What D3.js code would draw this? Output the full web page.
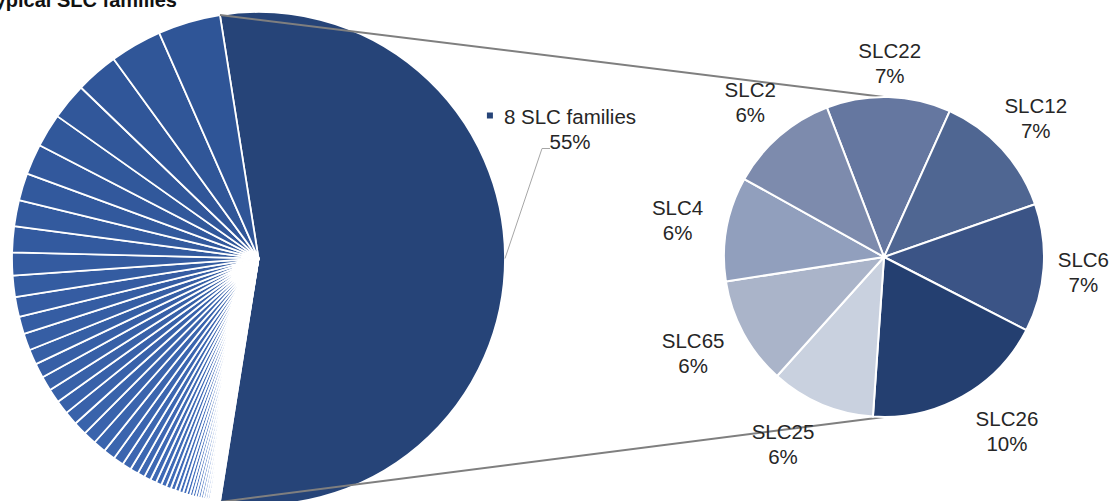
<!DOCTYPE html>
<html>
<head>
<meta charset="utf-8">
<script src="https://cdn.jsdelivr.net/npm/d3@7"></script>
<style>
body{margin:0;background:#fff;}
svg{display:block;font-family:"Liberation Sans",Arial,sans-serif;}
</style>
</head>
<body>
<div id="chart"></div>
<script>
// chart data (% of all families)
var titleText = "Atypical SLC families";
var groupLabel = "8 SLC families";
var slcNames = ["SLC22","SLC12","SLC6","SLC26","SLC25","SLC65","SLC4","SLC2"];
var slcShares = [6.9, 7.1, 7.1, 10.2, 5.8, 6.0, 5.8, 6.1];
// the remaining small families of the first pie, largest first
var otherShares = [4.1, 3.4, 2.8, 2.4, 2.2, 2.0, 1.8, 1.7, 1.7,
    1.5, 1.4, 1.3, 1.15, 1.1, 1.0, 0.95, 0.95, 0.92,
    0.9, 0.9, 0.88, 0.86, 0.84,
    0.78, 0.68, 0.6, 0.54, 0.48, 0.44, 0.4, 0.37, 0.34, 0.32, 0.3, 0.28, 0.26,
    0.24, 0.22, 0.2, 0.19, 0.18, 0.17, 0.16, 0.15, 0.14, 0.13, 0.12, 0.11,
    0.1, 0.09, 0.08, 0.07, 0.06, 0.05];

var slcColors = ["#6577a0","#4f6692","#3b5486","#243f70","#c9d1df","#aab4c9","#919fbd","#7d8bad"];
var groupColor = "#264478";

function DrawPieOfPie(){
    var width = 1111, height = 501;
    var cx = 258.5, cy = 258.5, R = 246.5;
    var cx2 = 884, cy2 = 257, R2 = 160;
    var deg = Math.PI/180;

    function pt(x0, y0, r, a){ return [x0 + r*Math.sin(a), y0 - r*Math.cos(a)]; }

    var svg = d3.select("#chart").append("svg")
        .attr("width", width)
        .attr("height", height);

    var groupTotal = d3.sum(slcShares);
    var bigAngle = groupTotal/100*2*Math.PI;
    var start1 = Math.PI/2 - bigAngle/2;

    // clockwise after the big slice: smallest first, so the largest sit at the top
    var others = otherShares.map(function(v,i){ return {name:"other"+i, value:v, idx:i}; }).reverse();
    var leftData = [{name:groupLabel, value:groupTotal, big:true}].concat(others);

    var pie1 = d3.pie().sort(null).value(function(d){return d.value;})
        .startAngle(start1).endAngle(start1 + 2*Math.PI);
    var arc1 = d3.arc().innerRadius(0).outerRadius(R);

    var shade = d3.scaleLinear().domain([0, otherShares.length-1])
        .range(["#2f5597","#4a79cc"]).interpolate(d3.interpolateRgb);

    var arcs1 = pie1(leftData);

    svg.append("g")
        .attr("transform","translate("+cx+","+cy+")")
        .selectAll("path").data(arcs1).enter().append("path")
        .attr("d", arc1)
        .style("fill", function(d){ return d.data.big ? groupColor : shade(d.data.idx); })
        .style("stroke","#fff")
        .style("stroke-width",1.8)
        .style("stroke-linejoin","round");

    // second pie
    var pie2 = d3.pie().sort(null).value(function(d){return d;})
        .startAngle(-20.9*deg).endAngle(-20.9*deg + 2*Math.PI);
    var arc2 = d3.arc().innerRadius(0).outerRadius(R2);
    var arcs2 = pie2(slcShares);

    // connector lines
    var big = arcs1[0];
    var pTop = pt(cx, cy, R, big.startAngle);
    var pBot = pt(cx, cy, R, big.endAngle);
    svg.append("line")
        .attr("x1",pTop[0]).attr("y1",pTop[1])
        .attr("x2",cx2).attr("y2",cy2-R2)
        .style("stroke","#7f7f7f").style("stroke-width",2);
    svg.append("line")
        .attr("x1",pBot[0]).attr("y1",pBot[1])
        .attr("x2",cx2).attr("y2",cy2+R2)
        .style("stroke","#7f7f7f").style("stroke-width",2);

    svg.append("g")
        .attr("transform","translate("+cx2+","+cy2+")")
        .selectAll("path").data(arcs2).enter().append("path")
        .attr("d", arc2)
        .style("fill", function(d,i){ return slcColors[i]; })
        .style("stroke","#fff")
        .style("stroke-width",2)
        .style("stroke-linejoin","round");

    // labels of second pie (outside end)
    var lab = svg.append("g").style("font-size","20.5px").style("fill","#262626");
    arcs2.forEach(function(d,i){
        var a = (d.startAngle + d.endAngle)/2;
        var down = Math.max(0, -Math.cos(a));
        a = a - 18*deg*Math.sin(a)*Math.pow(down,3);
        var off = R2 + 34 + 16*Math.abs(Math.sin(a)) + 12*Math.max(0, -Math.cos(a));
        var c = pt(cx2, cy2, off, a);
        var t = lab.append("text").attr("text-anchor","middle");
        var s1 = t.append("tspan").attr("x",c[0]).attr("y",c[1]-5).text(slcNames[i]);
        t.append("tspan").attr("x",c[0]).attr("y",c[1]+20).text(Math.round(slcShares[i])+"%");
        var w = s1.node().getComputedTextLength();
        var x = Math.min(c[0], width - w/2 - 2);
        t.selectAll("tspan").attr("x", x);
    });

    // label of the big slice with leader
    var mid = (big.startAngle + big.endAngle)/2;
    var pm = pt(cx, cy, R, mid);
    var lx = pm[0] + 65, b1 = pm[1] - 135, b2 = b1 + 25;
    svg.append("polyline")
        .attr("points", [pm, [pm[0]+37, b2], [pm[0]+45, b2]].map(function(p){return p.join(",");}).join(" "))
        .style("fill","none").style("stroke","#a6a6a6").style("stroke-width",1);
    var t1 = lab.append("text").attr("text-anchor","middle").attr("x",lx).attr("y",b1).text(groupLabel);
    var w1 = t1.node().getComputedTextLength();
    lab.append("rect")
        .attr("x", lx - w1/2 - 17).attr("y", b1 - 11)
        .attr("width",6).attr("height",6)
        .style("fill", groupColor);
    lab.append("text").attr("text-anchor","middle").attr("x",lx).attr("y",b2)
        .text(Math.round(groupTotal)+"%");

    // title, cut by the top of the picture
    svg.append("text")
        .attr("x",177).attr("y",7)
        .attr("text-anchor","end")
        .style("font-size","20px").style("font-weight","bold").style("fill","#111")
        .text(titleText);
}

DrawPieOfPie();
</script>
</body>
</html>
